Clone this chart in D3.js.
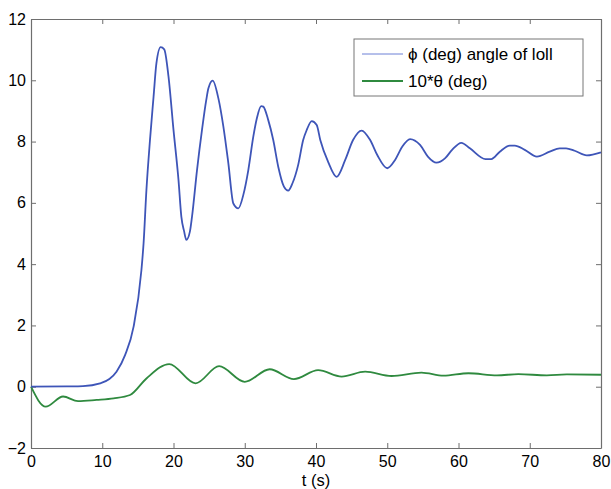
<!DOCTYPE html>
<html>
<head>
<meta charset="utf-8">
<script src="https://cdn.jsdelivr.net/npm/d3@7"></script>
<style>
  body { margin: 0; background: #fff; }
  text { font-family: "Liberation Sans", Arial, sans-serif; fill: #000; }
</style>
</head>
<body>
<div id="chart"></div>
<script>
/* data */
const phiT = [0, 5, 7.3, 9.7, 11, 12, 13.2, 14.4, 15.5, 15.8, 16.2, 16.7, 17.2, 17.6, 18.2, 18.7, 19.3, 20.0, 20.7, 21.1, 21.5, 21.8, 22.3, 22.6, 23.3, 24.0, 24.6, 24.9, 25.5, 26.3, 27.0, 27.7, 28.4, 29.1, 29.8, 30.5, 31.2, 31.7, 32.3, 32.6, 33.3, 34.0, 34.7, 35.5, 36.1, 36.7, 37.5, 38.2, 38.7, 39.4, 40.1, 40.6, 41.7, 42.9, 44.1, 45.2, 46.4, 47.6, 48.6, 50.0, 51.1, 52.1, 53.2, 54.6, 55.7, 56.9, 58.1, 59.1, 60.4, 61.6, 63.8, 64.6, 65.8, 67.2, 67.9, 69.3, 71.0, 72.8, 74.2, 75.1, 76.3, 78.0, 80];
const phiV = [0, 0.01, 0.02, 0.11, 0.25, 0.49, 1.03, 1.96, 3.81, 4.68, 6.42, 8.05, 9.46, 10.55, 11.08, 11.01, 10.12, 8.38, 6.75, 5.55, 5.06, 4.79, 5.06, 5.55, 7.07, 8.38, 9.36, 9.74, 9.99, 9.41, 8.49, 7.29, 5.98, 5.82, 6.26, 7.07, 8.16, 8.76, 9.16, 9.14, 8.70, 8.05, 7.18, 6.53, 6.40, 6.64, 7.24, 8.05, 8.38, 8.67, 8.54, 8.05, 7.34, 6.85, 7.40, 8.05, 8.36, 8.05, 7.56, 7.13, 7.40, 7.83, 8.08, 7.89, 7.51, 7.31, 7.45, 7.73, 7.96, 7.78, 7.43, 7.43, 7.67, 7.87, 7.87, 7.73, 7.51, 7.67, 7.78, 7.78, 7.70, 7.55, 7.65];

const thetaT = [0, 2.06, 4.5, 6.6, 9.2, 11.6, 13.9, 16.2, 19.4, 23.1, 26.4, 30.0, 33.5, 36.9, 40.3, 43.6, 46.9, 50.6, 54.8, 57.9, 61.4, 65.4, 68.4, 72.4, 75.2, 80];
const thetaV = [0, -0.65, -0.32, -0.47, -0.43, -0.38, -0.27, 0.27, 0.74, 0.11, 0.67, 0.16, 0.57, 0.25, 0.54, 0.33, 0.49, 0.35, 0.46, 0.36, 0.44, 0.37, 0.41, 0.37, 0.40, 0.39];

const xTicks = [0, 10, 20, 30, 40, 50, 60, 70, 80];
const yTicks = [-2, 0, 2, 4, 6, 8, 10, 12];
const seriesNames = ["\u03D5 (deg) angle of loll", "10*\u03B8 (deg)"];

const width = 611, height = 489;
const margin = {top: 19, left: 31, right: 10, bottom: 41};

const svg = d3.select("#chart").append("svg")
    .attr("width", width)
    .attr("height", height);

const xScale = d3.scaleLinear().domain([0, 80]).range([margin.left, width - margin.right]);
const yScale = d3.scaleLinear().domain([-2, 12]).range([height - margin.bottom, margin.top]);

const axisColor = "#6e6e6e";

// ticks pointing inward on all four sides (box style)
function styleAxis(g) {
    g.select(".domain").attr("stroke", axisColor).attr("stroke-width", 1.2);
    g.selectAll(".tick line").attr("stroke", axisColor);
    g.selectAll(".tick text").style("font-size", "16px").attr("fill", "#000");
}

svg.append("g")
    .attr("transform", `translate(0,${yScale(-2)})`)
    .call(d3.axisBottom(xScale).tickValues(xTicks).tickSize(-5).tickPadding(8).tickSizeOuter(0))
    .call(styleAxis);

svg.append("g")
    .attr("transform", `translate(0,${yScale(12)})`)
    .call(d3.axisTop(xScale).tickValues(xTicks).tickSize(-5).tickFormat("").tickSizeOuter(0))
    .call(styleAxis);

svg.append("g")
    .attr("transform", `translate(${xScale(0)},0)`)
    .call(d3.axisLeft(yScale).tickValues(yTicks).tickSize(-5).tickPadding(5).tickSizeOuter(0))
    .call(styleAxis);

svg.append("g")
    .attr("transform", `translate(${xScale(80)},0)`)
    .call(d3.axisRight(yScale).tickValues(yTicks).tickSize(-5).tickFormat("").tickSizeOuter(0))
    .call(styleAxis);

// lines
const line = d3.line()
    .x(d => xScale(d[0]))
    .y(d => yScale(d[1]))
    .curve(d3.curveMonotoneX);

svg.append("path")
    .datum(d3.zip(thetaT, thetaV))
    .attr("fill", "none")
    .attr("stroke", "#2f8a3f")
    .attr("stroke-width", 1.8)
    .attr("d", line);

svg.append("path")
    .datum(d3.zip(phiT, phiV))
    .attr("fill", "none")
    .attr("stroke", "#3e55b8")
    .attr("stroke-width", 1.8)
    .attr("d", line);

// x axis label
svg.append("text")
    .attr("x", (xScale(0) + xScale(80)) / 2)
    .attr("y", 486)
    .attr("text-anchor", "middle")
    .style("font-size", "16.5px")
    .text("t (s)");

// legend
const legend = svg.append("g").attr("transform", "translate(354,39)");
legend.append("rect")
    .attr("width", 229).attr("height", 57)
    .attr("fill", "#fff")
    .attr("stroke", "#777").attr("stroke-width", 1);

const legendColors = ["#6d80d6", "#2f8a3f"];
const legendWidths = [1, 1.8];
seriesNames.forEach(function(name, i) {
    const y = 15 + i * 27;
    legend.append("line")
        .attr("x1", 8).attr("x2", 49)
        .attr("y1", y).attr("y2", y)
        .attr("stroke", legendColors[i])
        .attr("stroke-width", legendWidths[i]);
    legend.append("text")
        .attr("x", 54).attr("y", y + 6)
        .style("font-size", "17px")
        .text(name);
});
</script>
</body>
</html>
